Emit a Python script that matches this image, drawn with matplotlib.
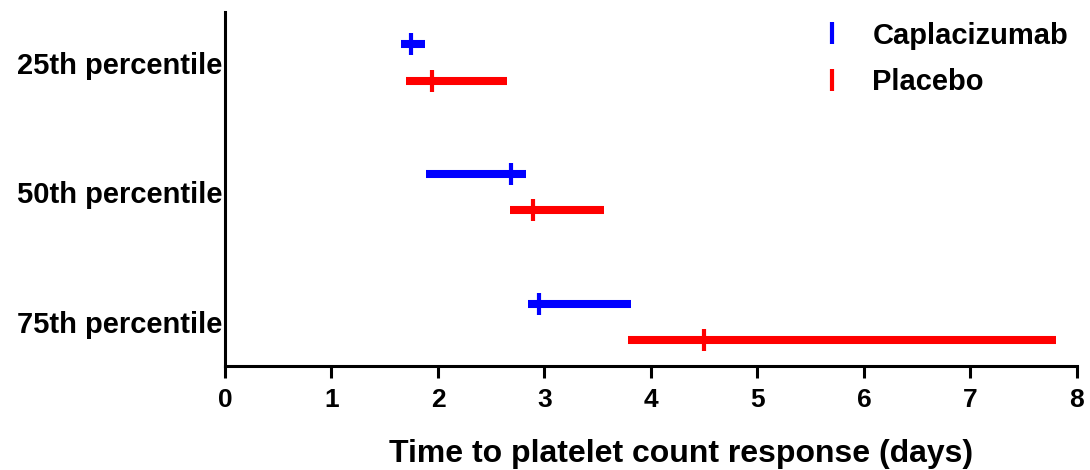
import matplotlib.pyplot as plt
from matplotlib.lines import Line2D

# Percentile groups (top to bottom)
categories = ["25th percentile", "50th percentile", "75th percentile"]

# Caplacizumab: lower CI, upper CI, point estimate (days)
capla_low = [1.65, 1.89, 2.85]
capla_high = [1.88, 2.83, 3.81]
capla_est = [1.75, 2.69, 2.95]

# Placebo
plac_low = [1.70, 2.68, 3.78]
plac_high = [2.65, 3.56, 7.80]
plac_est = [1.94, 2.89, 4.50]

x_ticks = [0, 1, 2, 3, 4, 5, 6, 7, 8]

plt.rcParams['font.family'] = ['Liberation Sans', 'DejaVu Sans']
plt.rcParams['font.weight'] = 'bold'

fig = plt.figure(figsize=(10.9, 4.7), dpi=100)
ax = fig.add_axes([0.2064, 0.2213, 0.7816, 0.7532])

blue = "#0000ff"
red = "#ff0000"
off = 0.14
ypos = list(range(len(categories)))

y_c = [y - off for y in ypos]
y_p = [y + off for y in ypos]

ax.hlines(y_c, capla_low, capla_high, color=blue, linewidth=5.8)
ax.plot(capla_est, y_c, linestyle="none", marker="|", markersize=16,
        markeredgewidth=3, color=blue)
ax.hlines(y_p, plac_low, plac_high, color=red, linewidth=5.8)
ax.plot(plac_est, y_p, linestyle="none", marker="|", markersize=16,
        markeredgewidth=3, color=red)

ax.set_xlim(0, 8)
ax.set_ylim(2.34, -0.39)
ax.set_xticks(x_ticks)
ax.set_xticklabels([str(t) for t in x_ticks], fontsize=19, fontweight="bold")
ax.set_yticks(ypos)
ax.set_yticklabels(categories, fontsize=21, fontweight="bold")
ax.tick_params(axis="y", length=0, pad=2)
ax.tick_params(axis="x", direction="out", length=8.6, width=2.2, pad=7)

for s in ["top", "right"]:
    ax.spines[s].set_visible(False)
for s in ["left", "bottom"]:
    ax.spines[s].set_linewidth(2.2)

ax.set_xlabel("Time to platelet count response (days)", fontsize=23,
              fontweight="bold", labelpad=20)
ax.xaxis.label.set_x(0.535)

handles = [
    Line2D([], [], color=blue, marker="|", linestyle="none", markersize=16, markeredgewidth=3),
    Line2D([], [], color=red, marker="|", linestyle="none", markersize=16, markeredgewidth=3),
]
ax.legend(handles, ["Caplacizumab", "Placebo"], loc="upper left",
          bbox_to_anchor=(0.75, 0.954), bbox_transform=fig.transFigure,
          frameon=False, prop={"size": 21, "weight": "bold"},
          borderaxespad=0, borderpad=0,
          handlelength=1.0, handletextpad=0.88, labelspacing=0.64)

fig.savefig("out.png", dpi=100)
